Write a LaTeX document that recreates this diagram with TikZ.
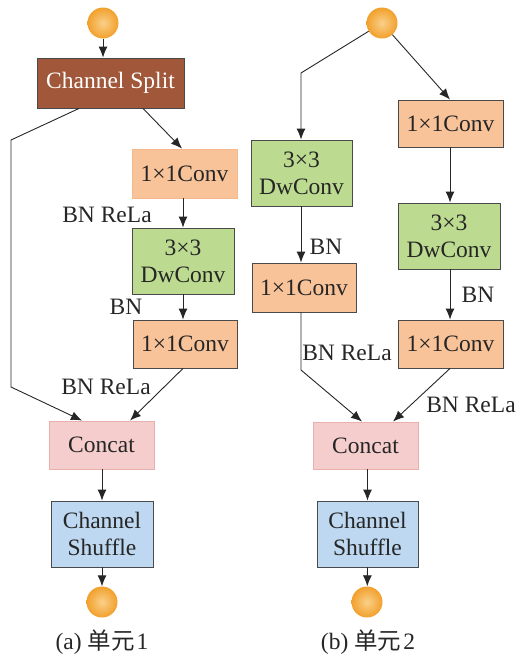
\documentclass[tikz,border=0pt]{standalone}
\usepackage{fontspec}
\setmainfont{Liberation Serif}
\newfontfamily\cjk{Noto Sans CJK SC}
\usetikzlibrary{arrows.meta}
\definecolor{splitc}{HTML}{A0573A}
\definecolor{peach}{HTML}{F9C39A}
\definecolor{peachb}{HTML}{F3B98C}
\definecolor{greenc}{HTML}{BCDB90}
\definecolor{pinkc}{HTML}{F5CDCC}
\definecolor{pinkb}{HTML}{E8B0AE}
\definecolor{bluec}{HTML}{BDD8F0}
\definecolor{edgec}{HTML}{4A4A4A}
\definecolor{ballin}{HTML}{FAD08A}
\definecolor{ballout}{HTML}{F2A02C}
\begin{document}
\begin{tikzpicture}[x=1pt,y=-1pt,
  every node/.style={font=\fontsize{23.5}{27}\selectfont, inner sep=0pt},
  box/.style={draw=edgec, line width=0.9pt, rectangle, align=center, text=black!85},
  convbox/.style={box, fill=peach},
  dwbox/.style={box, fill=greenc},
  ball/.style={circle, minimum size=31pt, inner color=ballin, outer color=ballout, draw=none},
  arr/.style={draw=black!85, line width=0.9pt, -{Latex[length=11pt,width=9pt]}},
  ln/.style={draw=black!85, line width=0.9pt},
  lbl/.style={text=black!85}]
\useasboundingbox (0,0) rectangle (518,654);

% ---------- (a) ----------
\node[ball] (ain) at (103,23) {};
\node[box, fill=splitc, text=white, minimum width=147pt, minimum height=50pt] (split) at (110.5,83) {Channel Split};
\node[convbox, draw=peachb, minimum width=105pt, minimum height=49pt] (aconv1) at (184.5,173.5) {1×1Conv};
\node[dwbox, minimum width=102pt, minimum height=66pt] (adw) at (183,261) {3×3\\DwConv};
\node[convbox, minimum width=104pt, minimum height=48pt] (aconv2) at (185,344) {1×1Conv};
\node[box, fill=pinkc, draw=pinkb, minimum width=105pt, minimum height=48pt] (aconcat) at (101.5,445) {Concat};
\node[box, fill=bluec, minimum width=102pt, minimum height=66pt] (ashuffle) at (102,534) {Channel\\Shuffle};
\node[ball] (aout) at (102,602) {};

\node[lbl] (albl1) at (107,215) {BN ReLa};
\node[lbl] (albl2) at (126,307) {BN};
\node[lbl] (albl3) at (106,387) {BN ReLa};

\coordinate (ab1) at (11,140);
\coordinate (ab2) at (11,387);

\draw[arr] (ain) -- (ain |- split.north);
\draw[arr] ([xshift=32.5pt]split.south) -- ([xshift=-2.5pt]aconv1.north);
\draw[arr] ([xshift=-31.5pt]split.south) -- (ab1) -- (ab2) -- ([xshift=-19.5pt]aconcat.north);
\draw[arr] (adw.north |- aconv1.south) -- (adw.north);
\draw[arr] (adw.south) -- (adw.south |- aconv2.north);
\draw[arr] ([xshift=-2pt]aconv2.south) -- ([xshift=28.5pt]aconcat.north);
\draw[arr] (ashuffle.north |- aconcat.south) -- (ashuffle.north);
\draw[arr] (ashuffle.south) -- (aout);

\node[lbl] (acap) at (102,642) {(a) {\cjk 单元}\hspace{2pt}1};

% ---------- (b) ----------
\node[ball] (bin) at (382,23) {};
\node[dwbox, minimum width=101pt, minimum height=66pt] (bdw1) at (301.5,173) {3×3\\DwConv};
\node[convbox, minimum width=104pt, minimum height=49pt] (bconv1) at (304,287.5) {1×1Conv};
\node[convbox, minimum width=105pt, minimum height=47pt] (bconvr1) at (450.5,123.5) {1×1Conv};
\node[dwbox, minimum width=102pt, minimum height=66pt] (bdwr) at (449,236) {3×3\\DwConv};
\node[convbox, minimum width=105pt, minimum height=48pt] (bconvr2) at (450.5,344) {1×1Conv};
\node[box, fill=pinkc, draw=pinkb, minimum width=105pt, minimum height=47pt] (bconcat) at (365.5,445.5) {Concat};
\node[box, fill=bluec, minimum width=101pt, minimum height=66pt] (bshuffle) at (367.5,534) {Channel\\Shuffle};
\node[ball] (bout) at (367,602) {};

\node[lbl] (blbl1) at (326,247) {BN};
\node[lbl] (blbl2) at (347,353) {BN ReLa};
\node[lbl] (blbl3) at (478,295) {BN};
\node[lbl] (blbl4) at (471,405) {BN ReLa};

\coordinate (bb1) at (301,73);
\coordinate (bb2) at (301,370);

\draw[arr] (bin) -- (bb1) -- (bb1 |- bdw1.north);
\draw[arr] (bin) -- ([xshift=-0.5pt]bconvr1.north);
\draw[arr] ([xshift=-0.5pt]bconvr1.south) -- ([xshift=1pt]bdwr.north);
\draw[arr] (bb1 |- bdw1.south) -- (bb1 |- bconv1.north);
\draw[arr] ([xshift=1pt]bdwr.south) -- ([xshift=-0.5pt]bconvr2.north);
\draw[arr] (bb1 |- bconv1.south) -- (bb2) -- ([xshift=-3.5pt]bconcat.north);
\draw[arr] ([xshift=-0.5pt]bconvr2.south) -- ([xshift=27.5pt]bconcat.north);
\draw[arr] (bshuffle.north |- bconcat.south) -- (bshuffle.north);
\draw[arr] (bshuffle.south) -- (bout);

\node[lbl] (bcap) at (368,642) {(b) {\cjk 单元}\hspace{2pt}2};
\end{tikzpicture}
\end{document}
